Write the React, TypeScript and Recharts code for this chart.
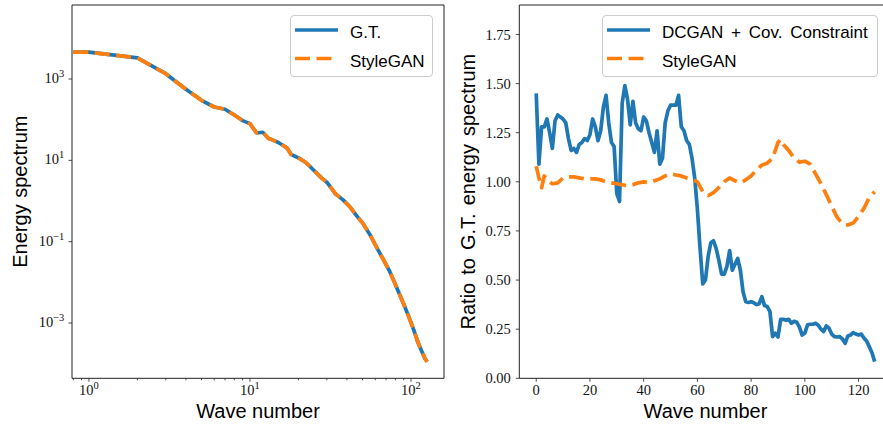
import React from 'react';
import { LineChart, Line, XAxis, YAxis, ReferenceLine, Legend } from 'recharts';

// ---------- Left panel: energy spectrum (log-log) ----------
// first entry stands for the clipped k = 0 point at the left edge of the log axis
const spectrumWaveNumbers = [0.8, 1, 2, 3, 4, 5, 6, 7, 8, 9, 10, 11, 12, 13, 14, 15, 16, 17, 18, 19, 20, 22, 24, 26, 28, 30, 34, 38, 42, 46, 50, 56, 62, 68, 74, 80, 86, 92, 98, 104, 110, 116, 122, 126];
const gtSpectrum = [4600, 4570, 3300, 1350, 560, 300, 205, 180, 130, 95, 80, 47, 49, 35, 31, 27.5, 23.5, 20, 14, 12.6, 11.5, 9.1, 6.6, 4.8, 3.6, 2.9, 1.5, 1.05, 0.7, 0.43, 0.29, 0.142, 0.066, 0.034, 0.018, 0.0089, 0.0045, 0.0024, 0.00126, 0.00068, 0.00035, 0.00021, 0.000135, 0.000112];
const styleganSpectrum = [4600, 4570, 3300, 1350, 560, 300, 205, 180, 130, 95, 80, 47, 49, 35, 31, 27.5, 23.5, 20, 14, 12.6, 11.5, 9.1, 6.6, 4.8, 3.6, 2.9, 1.5, 1.05, 0.7, 0.43, 0.29, 0.142, 0.066, 0.034, 0.018, 0.0089, 0.0045, 0.0024, 0.00126, 0.00068, 0.00035, 0.00021, 0.000135, 0.000112];
const spectrumXTicks = [0.8, 0.9, 1, 2, 3, 4, 5, 6, 7, 8, 9, 10, 20, 30, 40, 50, 60, 70, 80, 90, 100];
const spectrumYTicks = [0.001, 0.1, 10, 1000];

// ---------- Right panel: ratio to G.T. energy spectrum ----------
// DCGAN + Cov. Constraint, wave numbers 0..126
const dcganRatio = [
  1.45, 1.09, 1.28, 1.28, 1.32, 1.25, 1.17, 1.31, 1.34, 1.33,
  1.32, 1.30, 1.22, 1.16, 1.17, 1.15, 1.19, 1.20, 1.22, 1.21,
  1.24, 1.32, 1.28, 1.21, 1.26, 1.38, 1.44, 1.30, 1.20, 1.18,
  0.94, 0.90, 1.40, 1.49, 1.42, 1.29, 1.41, 1.30, 1.27, 1.26,
  1.33, 1.31, 1.25, 1.20, 1.15, 1.26, 1.09, 1.12, 1.30, 1.36,
  1.39, 1.39, 1.39, 1.44, 1.28, 1.26, 1.21, 1.19, 1.12, 1.02,
  0.86, 0.66, 0.48, 0.50, 0.62, 0.69, 0.70, 0.66, 0.60, 0.53,
  0.53, 0.57, 0.65, 0.55, 0.58, 0.61, 0.55, 0.44, 0.39, 0.386,
  0.39, 0.385, 0.375, 0.38, 0.415, 0.37, 0.365, 0.34, 0.212, 0.23,
  0.21, 0.30, 0.30, 0.295, 0.30, 0.28, 0.29, 0.285, 0.26, 0.22,
  0.23, 0.272, 0.275, 0.275, 0.28, 0.27, 0.25, 0.238, 0.267, 0.255,
  0.225, 0.212, 0.21, 0.212, 0.20, 0.178, 0.215, 0.22, 0.233, 0.225,
  0.22, 0.225, 0.205, 0.19, 0.16, 0.13, 0.085,
];
const styleganRatioWaveNumbers = [0, 1, 2, 3, 4, 5, 6, 8, 10, 12, 14, 16, 18, 20, 22, 24, 26, 28, 30, 32, 34, 36, 38, 40, 42, 44, 46, 48, 50, 52, 54, 56, 58, 60, 62, 64, 66, 68, 70, 72, 74, 76, 78, 80, 82, 84, 86, 88, 90, 91, 92, 94, 96, 98, 100, 102, 104, 106, 108, 110, 112, 114, 116, 118, 120, 122, 124, 126];
const styleganRatio = [1.08, 1.02, 0.97, 1.03, 1.01, 1.0, 0.99, 0.995, 1.02, 1.025, 1.025, 1.02, 1.015, 1.015, 1.015, 1.01, 1.0, 0.995, 0.99, 0.985, 0.98, 0.985, 0.995, 1.0, 0.995, 1.005, 1.015, 1.03, 1.04, 1.035, 1.03, 1.02, 1.012, 1.0, 0.95, 0.93, 0.945, 0.97, 1.0, 1.02, 1.005, 0.995, 1.01, 1.03, 1.06, 1.085, 1.095, 1.12, 1.2, 1.215, 1.19, 1.16, 1.12, 1.1, 1.105, 1.09, 1.04, 0.99, 0.935, 0.875, 0.82, 0.785, 0.78, 0.79, 0.825, 0.865, 0.92, 0.95];
const ratioXTicks = [0, 20, 40, 60, 80, 100, 120];
const ratioYTicks = [0, 0.25, 0.5, 0.75, 1.0, 1.25, 1.5, 1.75];

// ---------- styling / layout ----------
const BLUE = '#1f77b4';
const ORANGE = '#ff7f0e';
const AXIS = '#222';
const SANS = '"Liberation Sans", Arial, sans-serif';
const SERIF = '"Liberation Serif", "Times New Roman", serif';
const TICK_FS = 14.5;
const LABEL_FS = 20;
const LEGEND_FS = 17;
const CHART_H = 426;
const TOP = 5;
const X_AXIS_H = 47.7;
const PLOT_BOTTOM = CHART_H - X_AXIS_H;
const LINE_W = 3.7;
const DASH = '15 6.5';

const L_MARGIN = { top: TOP, right: 6, bottom: 0, left: 12 };
const L_YAXIS_W = 60;
const L_PLOT_LEFT = L_MARGIN.left + L_YAXIS_W;
const L_WIDTH = 450;
const L_PLOT_RIGHT = L_WIDTH - L_MARGIN.right;
const L_XDOMAIN = [0.785, 160.3];
const L_YDOMAIN = [4.37e-5, 66070];

const R_OFFSET = 440;
const R_WIDTH = 460;
const R_MARGIN = { top: TOP, right: 8.4, bottom: 0, left: 9.3 };
const R_YAXIS_W = 70;
const R_PLOT_LEFT = R_MARGIN.left + R_YAXIS_W;
const R_PLOT_RIGHT = R_WIDTH - R_MARGIN.right;
const R_XDOMAIN = [-6.3, 132.3];
const R_YDOMAIN = [0, 1.9];

const spectrumData = spectrumWaveNumbers.map((k, i) => ({ k, gt: gtSpectrum[i], sg: styleganSpectrum[i] }));
const dcganData = dcganRatio.map((v, i) => ({ k: i, v }));
const styleganData = styleganRatioWaveNumbers.map((k, i) => ({ k, v: styleganRatio[i] }));

const expText = (v: number) => {
  const e = Math.round(Math.log10(v));
  return e < 0 ? '\u2212' + Math.abs(e) : String(e);
};

const LogXTick = (props: any) => {
  const { x, payload } = props;
  const v = payload.value;
  const lg = Math.log10(v);
  const major = Math.abs(lg - Math.round(lg)) < 1e-6;
  return (
    <g>
      <line x1={x} x2={x} y1={PLOT_BOTTOM} y2={PLOT_BOTTOM + (major ? 3.5 : 2)} stroke={AXIS} strokeWidth={0.8} />
      {major && (
        <text x={x} y={PLOT_BOTTOM + 16.7} textAnchor="middle" fontFamily={SERIF} fontSize={TICK_FS} fill="#111">
          10<tspan dy={-5.6} fontSize={10.5}>{expText(v)}</tspan>
        </text>
      )}
    </g>
  );
};

const LogYTick = (props: any) => {
  const { y, payload } = props;
  return (
    <g>
      <line x1={L_PLOT_LEFT - 3.5} x2={L_PLOT_LEFT} y1={y} y2={y} stroke={AXIS} strokeWidth={0.8} />
      <text x={L_PLOT_LEFT - 7.7} y={y + 3.9} textAnchor="end" fontFamily={SERIF} fontSize={TICK_FS} fill="#111">
        10<tspan dy={-5.8} fontSize={10.5}>{expText(payload.value)}</tspan>
      </text>
    </g>
  );
};

const xLabel = (cx: number) => () => (
  <text x={cx} y={PLOT_BOTTOM + 40} textAnchor="middle" fontFamily={SANS} fontSize={LABEL_FS} fill="#000">
    Wave number
  </text>
);

const yLabel = (plotLeft: number, text: string, ws: number) => () => {
  const x = plotLeft - 44.5;
  const y = (TOP + PLOT_BOTTOM) / 2;
  return (
    <text x={x} y={y} transform={`rotate(-90 ${x} ${y})`} textAnchor="middle" fontFamily={SANS} fontSize={LABEL_FS} fill="#000" style={{ wordSpacing: ws }}>
      {text}
    </text>
  );
};

type LegendItem = { name: string; color: string; dashed: boolean };

const legendContent = (items: LegendItem[], width: number) => () => (
  <div
    style={{
      width,
      height: 62,
      boxSizing: 'border-box',
      border: '1px solid #cccccc',
      borderRadius: 4,
      background: 'rgba(255,255,255,0.8)',
    }}
  >
    <svg width={width - 2} height={60} style={{ display: 'block' }}>
      {items.map((it, i) => {
        const ly = 14 + i * 28.5;
        return (
          <g key={it.name}>
            <line x1={4} x2={47} y1={ly} y2={ly} stroke={it.color} strokeWidth={LINE_W} strokeDasharray={it.dashed ? DASH : undefined} />
            <text x={i === 0 ? 59 : 59} y={ly + 8} fontFamily={SANS} fontSize={LEGEND_FS} fill="#000" style={{ wordSpacing: 3, whiteSpace: 'pre' }}>
              {it.name}
            </text>
          </g>
        );
      })}
    </svg>
  </div>
);

export default function App() {
  return (
    <div style={{ position: 'absolute', left: 0, top: 0, width: 883, height: 426, overflow: 'hidden', background: '#fff', fontFamily: SANS }}>
      <div style={{ position: 'absolute', left: 0, top: 0 }}>
        <LineChart width={L_WIDTH} height={CHART_H} data={spectrumData} margin={L_MARGIN}>
          <XAxis
            dataKey="k"
            type="number"
            scale="log"
            domain={L_XDOMAIN}
            allowDataOverflow
            ticks={spectrumXTicks}
            interval={0}
            height={X_AXIS_H}
            tickLine={false}
            axisLine={{ stroke: AXIS, strokeWidth: 1 }}
            tick={<LogXTick />}
            label={{ content: xLabel((L_PLOT_LEFT + L_PLOT_RIGHT) / 2) }}
          />
          <YAxis
            type="number"
            scale="log"
            domain={L_YDOMAIN}
            allowDataOverflow
            ticks={spectrumYTicks}
            interval={0}
            width={L_YAXIS_W}
            tickLine={false}
            axisLine={{ stroke: AXIS, strokeWidth: 1 }}
            tick={<LogYTick />}
            label={{ content: yLabel(L_PLOT_LEFT, 'Energy spectrum', 1) }}
          />
          <ReferenceLine y={L_YDOMAIN[1]} stroke={AXIS} strokeWidth={1} ifOverflow="visible" />
          <ReferenceLine x={L_XDOMAIN[1]} stroke={AXIS} strokeWidth={1} ifOverflow="visible" />
          <Line dataKey="gt" name="G.T." stroke={BLUE} strokeWidth={LINE_W} dot={false} strokeLinejoin="round" isAnimationActive={false} />
          <Line dataKey="sg" name="StyleGAN" stroke={ORANGE} strokeWidth={LINE_W} strokeDasharray={DASH} dot={false} strokeLinejoin="round" isAnimationActive={false} />
          <Legend
            layout="vertical"
            align="center"
            verticalAlign="middle"
            content={legendContent(
              [
                { name: 'G.T.', color: BLUE, dashed: false },
                { name: 'StyleGAN', color: ORANGE, dashed: true },
              ],
              143
            )}
            wrapperStyle={{ left: 290, top: 15, width: 143, height: 62 }}
          />
        </LineChart>
      </div>
      <div style={{ position: 'absolute', left: R_OFFSET, top: 0 }}>
        <LineChart width={R_WIDTH} height={CHART_H} margin={R_MARGIN}>
          <XAxis
            dataKey="k"
            type="number"
            domain={R_XDOMAIN}
            allowDataOverflow
            ticks={ratioXTicks}
            interval={0}
            height={X_AXIS_H}
            tickSize={3.5}
            tickMargin={3}
            tickLine={{ stroke: AXIS, strokeWidth: 0.8 }}
            axisLine={{ stroke: AXIS, strokeWidth: 1 }}
            tick={{ fontFamily: SERIF, fontSize: TICK_FS, fill: '#111' }}
            label={{ content: xLabel((R_PLOT_LEFT + R_PLOT_RIGHT) / 2) }}
          />
          <YAxis
            type="number"
            domain={R_YDOMAIN}
            allowDataOverflow
            ticks={ratioYTicks}
            interval={0}
            width={R_YAXIS_W}
            tickSize={3.5}
            tickMargin={5}
            tickFormatter={(v: number) => v.toFixed(2)}
            tickLine={{ stroke: AXIS, strokeWidth: 0.8 }}
            axisLine={{ stroke: AXIS, strokeWidth: 1 }}
            tick={{ fontFamily: SERIF, fontSize: TICK_FS, fill: '#111' }}
            label={{ content: yLabel(R_PLOT_LEFT, 'Ratio to G.T. energy spectrum', 2.5) }}
          />
          <ReferenceLine y={R_YDOMAIN[1]} stroke={AXIS} strokeWidth={1} ifOverflow="visible" />
          <Line data={dcganData} dataKey="v" name="DCGAN + Cov. Constraint" stroke={BLUE} strokeWidth={LINE_W} dot={false} strokeLinejoin="round" isAnimationActive={false} />
          <Line data={styleganData} dataKey="v" name="StyleGAN" stroke={ORANGE} strokeWidth={LINE_W} strokeDasharray={DASH} dot={false} strokeLinejoin="round" isAnimationActive={false} />
          <Legend
            layout="vertical"
            align="center"
            verticalAlign="middle"
            content={legendContent(
              [
                { name: 'DCGAN + Cov. Constraint', color: BLUE, dashed: false },
                { name: 'StyleGAN', color: ORANGE, dashed: true },
              ],
              276
            )}
            wrapperStyle={{ left: 162, top: 15, width: 276, height: 62 }}
          />
        </LineChart>
      </div>
    </div>
  );
}
